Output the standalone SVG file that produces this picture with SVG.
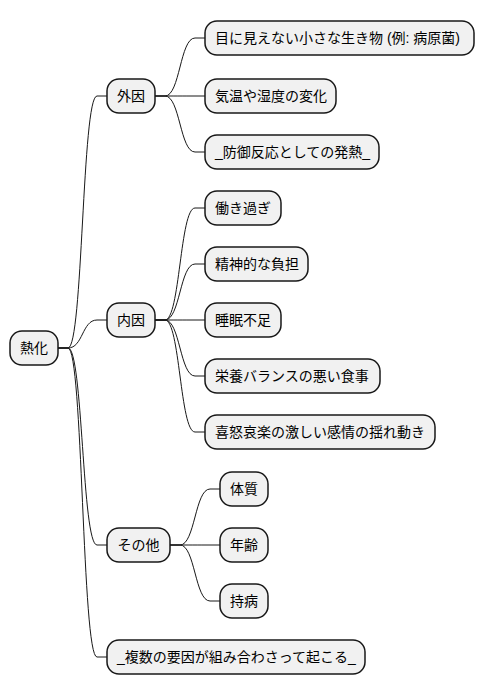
<svg xmlns="http://www.w3.org/2000/svg" width="485" height="696" viewBox="0 0 485 696">
  <style>
    .box { fill: #F1F1F1; stroke: #181818; stroke-width: 1.5; }
    .lbl { font-family: "Liberation Sans", "Noto Sans CJK JP", sans-serif; font-size: 14px; fill: #000000; }
    .link { fill: none; stroke: #181818; stroke-width: 1; }
  </style>
  <rect width="485" height="696" fill="#FFFFFF"/>

  <g id="connectors">
    <!-- root to first level -->
    <path class="link" d="M58 348 L68 348 C83 348 82 96 97 96 L107 96"/>
    <path class="link" d="M58 348 L68 348 C83 348 82 320 97 320 L107 320"/>
    <path class="link" d="M58 348 L68 348 C83 348 82 545 97 545 L107 545"/>
    <path class="link" d="M58 348 L68 348 C83 348 82 657 97 657 L107 657"/>
    <!-- 外因 -->
    <path class="link" d="M155 96 L165 96 C180 96 180 38 195 38 L205 38"/>
    <path class="link" d="M155 96 L165 96 C180 96 180 96 195 96 L205 96"/>
    <path class="link" d="M155 96 L165 96 C180 96 180 152 195 152 L205 152"/>
    <!-- 内因 -->
    <path class="link" d="M155 320 L165 320 C180 320 180 208 195 208 L205 208"/>
    <path class="link" d="M155 320 L165 320 C180 320 180 264 195 264 L205 264"/>
    <path class="link" d="M155 320 L165 320 C180 320 180 320 195 320 L205 320"/>
    <path class="link" d="M155 320 L165 320 C180 320 180 376 195 376 L205 376"/>
    <path class="link" d="M155 320 L165 320 C180 320 180 432 195 432 L205 432"/>
    <!-- その他 -->
    <path class="link" d="M170 545 L180 545 C195 545 195 489 210 489 L220 489"/>
    <path class="link" d="M170 545 L180 545 C195 545 195 545 210 545 L220 545"/>
    <path class="link" d="M170 545 L180 545 C195 545 195 601 210 601 L220 601"/>
  </g>

  <g id="root">
    <rect class="box" x="10" y="331" width="48" height="34" rx="12"/>
    <text class="lbl" x="34" y="353" text-anchor="middle">熱化</text>
  </g>

  <g id="external">
    <rect class="box" x="107" y="79" width="48" height="34" rx="12"/>
    <text class="lbl" x="131" y="101" text-anchor="middle">外因</text>
  </g>
  <g id="microbes">
    <rect class="box" x="205" y="21" width="269" height="34" rx="12"/>
    <text class="lbl" x="215" y="43">目に見えない小さな生き物 (例: 病原菌)</text>
  </g>
  <g id="climate">
    <rect class="box" x="205" y="79" width="131" height="34" rx="12"/>
    <text class="lbl" x="215" y="101">気温や湿度の変化</text>
  </g>
  <g id="defense">
    <rect class="box" x="205" y="135" width="174" height="34" rx="12"/>
    <text class="lbl" x="215" y="157">_防御反応としての発熱_</text>
  </g>

  <g id="internal">
    <rect class="box" x="107" y="303" width="48" height="34" rx="12"/>
    <text class="lbl" x="131" y="325" text-anchor="middle">内因</text>
  </g>
  <g id="overwork">
    <rect class="box" x="205" y="191" width="76" height="34" rx="12"/>
    <text class="lbl" x="215" y="213">働き過ぎ</text>
  </g>
  <g id="stress">
    <rect class="box" x="205" y="247" width="103" height="34" rx="12"/>
    <text class="lbl" x="215" y="269">精神的な負担</text>
  </g>
  <g id="sleep">
    <rect class="box" x="205" y="303" width="76" height="34" rx="12"/>
    <text class="lbl" x="215" y="325">睡眠不足</text>
  </g>
  <g id="diet">
    <rect class="box" x="205" y="359" width="175" height="34" rx="12"/>
    <text class="lbl" x="215" y="381">栄養バランスの悪い食事</text>
  </g>
  <g id="emotion">
    <rect class="box" x="205" y="415" width="230" height="34" rx="12"/>
    <text class="lbl" x="215" y="437">喜怒哀楽の激しい感情の揺れ動き</text>
  </g>

  <g id="other">
    <rect class="box" x="107" y="528" width="63" height="34" rx="12"/>
    <text class="lbl" x="138.5" y="550" text-anchor="middle">その他</text>
  </g>
  <g id="constitution">
    <rect class="box" x="220" y="472" width="48" height="34" rx="12"/>
    <text class="lbl" x="244" y="494" text-anchor="middle">体質</text>
  </g>
  <g id="age">
    <rect class="box" x="220" y="528" width="48" height="34" rx="12"/>
    <text class="lbl" x="244" y="550" text-anchor="middle">年齢</text>
  </g>
  <g id="chronic">
    <rect class="box" x="220" y="584" width="48" height="34" rx="12"/>
    <text class="lbl" x="244" y="606" text-anchor="middle">持病</text>
  </g>

  <g id="combined">
    <rect class="box" x="107" y="640" width="258" height="34" rx="12"/>
    <text class="lbl" x="117" y="662">_複数の要因が組み合わさって起こる_</text>
  </g>
</svg>
